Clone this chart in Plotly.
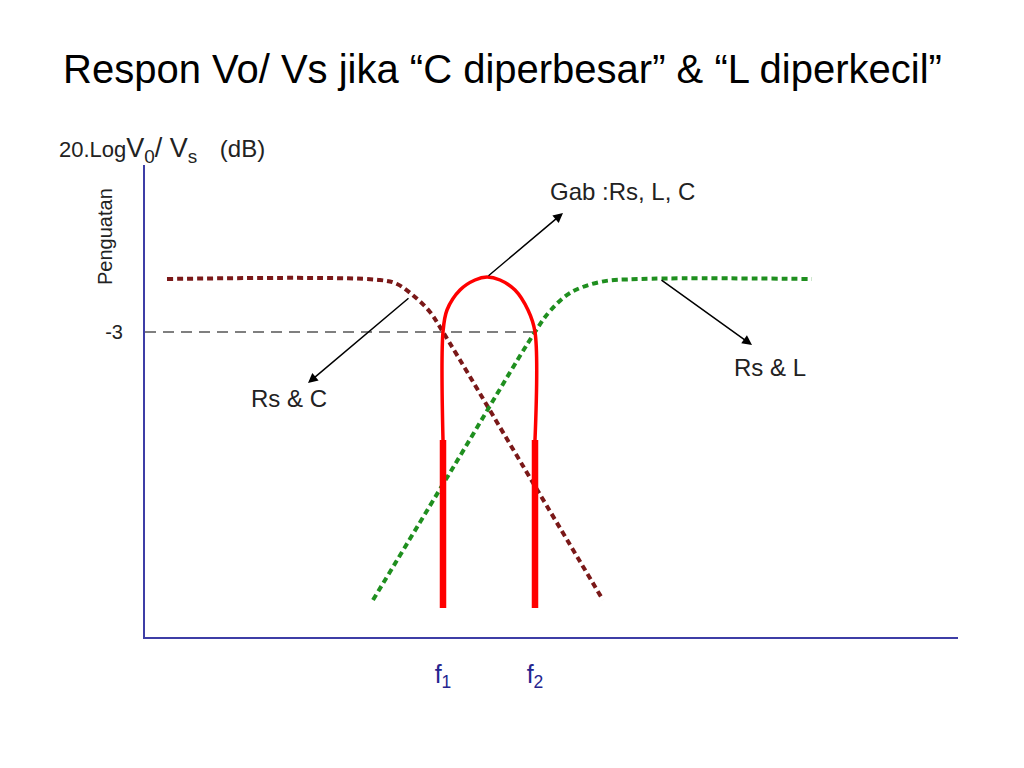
import plotly.graph_objects as go

# Schematic frequency response (x: relative frequency position, y: relative gain)
rs_c_x = [22, 235, 252, 270, 285, 298, 378, 458]
rs_c_y = [358, 357, 353, 340, 325, 305, 171, 37]

rs_l_x = [228, 309, 390, 405, 425, 455, 495, 667]
rs_l_y = [37, 171, 305, 326, 344, 355, 358, 358]

gab_x = [298, 298, 302, 315, 330, 342, 355, 370, 383, 390, 390]
gab_y = [197, 305, 327, 347, 357, 360, 357, 347, 327, 305, 197]

band_left_x = [298, 298]
band_right_x = [390, 390]
band_y = [29, 197]

minus3_x = [0, 395]
minus3_y = [305, 305]

f_ticks = [298, 390]
f_labels = ["f<sub>1</sub>", "f<sub>2</sub>"]
y_ticks = [305]
y_labels = ["-3"]

FONT = "Liberation Sans, Arial, sans-serif"
AXIS_COLOR = "#3e3ea6"
TXT = "#222222"

fig = go.Figure()

fig.add_trace(go.Scatter(x=minus3_x, y=minus3_y, mode="lines",
                         line=dict(color="black", width=1.2, dash="11px,7px"),
                         hoverinfo="skip", showlegend=False))
fig.add_trace(go.Scatter(x=rs_c_x, y=rs_c_y, mode="lines", line_shape="spline",
                         line=dict(color="#7a1818", width=4, dash="6px,4px"),
                         showlegend=False))
fig.add_trace(go.Scatter(x=rs_l_x, y=rs_l_y, mode="lines", line_shape="spline",
                         line=dict(color="#1f8f1f", width=4, dash="6px,4px"),
                         showlegend=False))
fig.add_trace(go.Scatter(x=gab_x, y=gab_y, mode="lines", line_shape="spline",
                         line=dict(color="#ff0000", width=3.5),
                         showlegend=False))
fig.add_trace(go.Scatter(x=band_left_x, y=band_y, mode="lines",
                         line=dict(color="#ff0000", width=6.5), showlegend=False))
fig.add_trace(go.Scatter(x=band_right_x, y=band_y, mode="lines",
                         line=dict(color="#ff0000", width=6.5), showlegend=False))

ann_font = dict(family=FONT, size=24, color=TXT)
arrow = dict(xref="x", yref="y", axref="x", ayref="y", showarrow=True,
             arrowhead=2, arrowsize=1.3, arrowwidth=1.5, arrowcolor="black", text="")
annotations = [
    dict(x=418, y=424, ax=342, ay=360, **arrow),
    dict(x=163, y=254, ax=265, ay=340, **arrow),
    dict(x=607, y=292, ax=515, ay=358, **arrow),
    dict(x=477, y=446, xref="x", yref="y", text="Gab :Rs, L, C", showarrow=False, font=ann_font),
    dict(x=144, y=239, xref="x", yref="y", text="Rs &amp; C", showarrow=False, font=ann_font),
    dict(x=625, y=270, xref="x", yref="y", text="Rs &amp; L", showarrow=False, font=ann_font),
    dict(x=(57 - 145) / 813, y=(637 - 150) / 472, xref="paper", yref="paper",
         xanchor="left", yanchor="middle",
         text="<span style='font-size:22px'>20.Log</span>V<sub>0</sub>/ V<sub>s</sub>"
              "&nbsp;&nbsp;&nbsp;<span style='font-size:24px'>(dB)</span>",
         showarrow=False, font=dict(family=FONT, size=27, color=TXT)),
    dict(x=(105 - 145) / 813, y=(637 - 237) / 472, xref="paper", yref="paper",
         xanchor="center", yanchor="middle",
         text="Penguatan", textangle=-90, showarrow=False,
         font=dict(family=FONT, size=20, color=TXT)),
]

# page body adds an 8px offset, margins compensate for it
fig.update_layout(
    width=1024, height=768,
    paper_bgcolor="white", plot_bgcolor="white",
    margin=dict(l=137, r=74, t=157, b=139),
    title=dict(text="Respon Vo/ Vs jika “C diperbesar” &amp; “L diperkecil”",
               x=(63 - 8) / 1024, xanchor="left", xref="container",
               y=1 - (69 - 8) / 768, yanchor="middle", yref="container",
               font=dict(family=FONT, size=40, color="black")),
    annotations=annotations,
    xaxis=dict(range=[0, 813], showgrid=False, zeroline=False,
               showline=True, linecolor=AXIS_COLOR, linewidth=2,
               tickvals=f_ticks, ticktext=f_labels, ticks="outside",
               ticklen=14, tickcolor="rgba(0,0,0,0)",
               tickfont=dict(family=FONT, size=25, color="#25258f")),
    yaxis=dict(range=[0, 472], showgrid=False, zeroline=False,
               showline=True, linecolor=AXIS_COLOR, linewidth=2,
               tickvals=y_ticks, ticktext=y_labels, ticks="outside",
               ticklen=16, tickcolor="rgba(0,0,0,0)",
               tickfont=dict(family=FONT, size=20, color=TXT)),
)

fig.write_html("out.html")
